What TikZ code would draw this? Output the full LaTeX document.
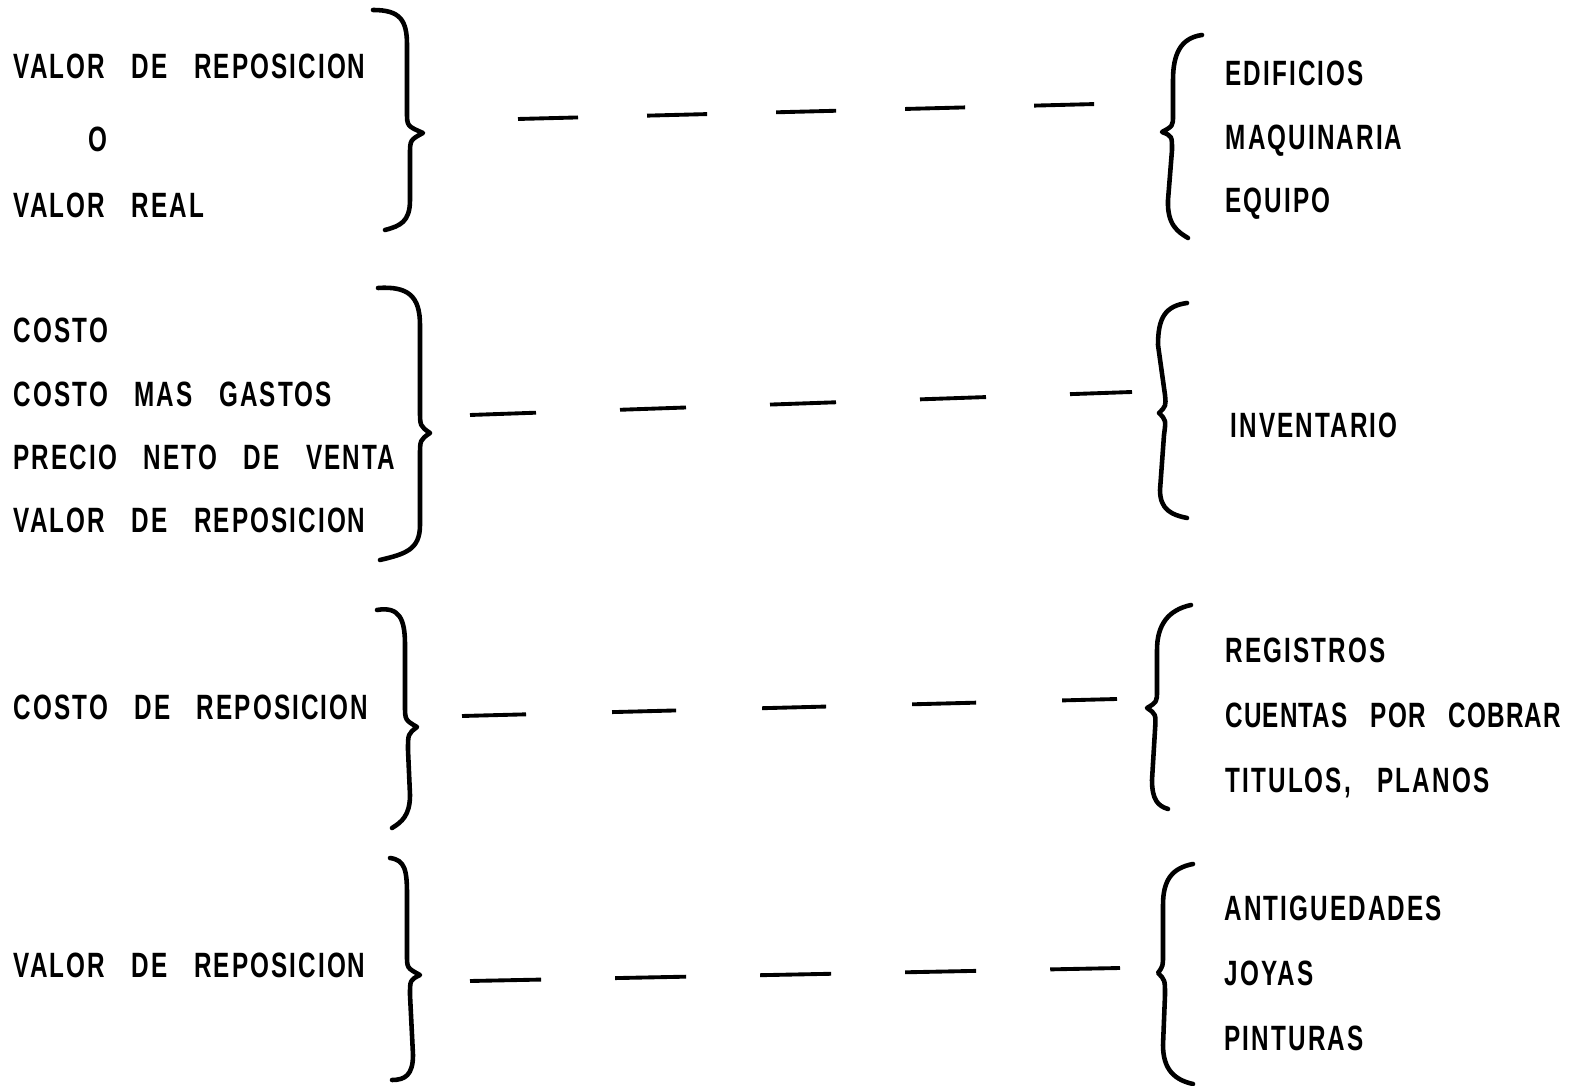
\documentclass[tikz,border=0pt]{standalone}
\usepackage{fontspec}
\setmainfont{Liberation Sans}[FakeStretch=0.69, LetterSpace=6, WordSpace=3.0]
\begin{document}
\begin{tikzpicture}[x=0.01cm, y=-0.01cm,
  lbl/.style={anchor=base west, inner sep=0pt, font=\fontsize{10}{12}\selectfont\bfseries},
  tight/.style={font=\fontsize{10}{12}\selectfont\bfseries\addfontfeatures{LetterSpace=3}},
  brc/.style={line width=1.3pt, line cap=round, line join=round},
  dashline/.style={line width=1.1pt}]
\useasboundingbox (0,0) rectangle (1585,1086);

% first row
\node[lbl](valrep1) at (13,79) {VALOR DE REPOSICION};
\node[lbl](o1) at (88,152) {O};
\node[lbl](valreal) at (13,218) {VALOR REAL};
\draw[brc] (373,10) .. controls (400,10) and (407,20) .. (407,45) -- (407,112) .. controls (407,126) .. (423,133) .. controls (410,140) .. (410,155) -- (410,200) .. controls (410,222) and (400,226) .. (385,230);
\coordinate (l1) at (518,119);
\coordinate (r1) at (1097,104);
\draw[dashline, dash pattern=on 0.6cm off 0.69cm] (l1) -- (r1);
\draw[brc] (1202,35) .. controls (1180,38) and (1173,55) .. (1173,80) -- (1173,115) .. controls (1173,126) .. (1162,132) .. controls (1172,136) .. (1172,150) -- (1168,200) .. controls (1167,225) and (1178,232) .. (1188,238);
\node[lbl](edificios) at (1225,86) {EDIFICIOS};
\node[lbl](maquinaria) at (1225,150) {MAQUINARIA};
\node[lbl](equipo) at (1225,213) {EQUIPO};

% second row
\node[lbl](costo) at (13,343) {COSTO};
\node[lbl](costomas) at (13,407) {COSTO MAS GASTOS};
\node[lbl](precio) at (13,470) {PRECIO NETO DE VENTA};
\node[lbl](valrep2) at (13,533) {VALOR DE REPOSICION};
\draw[brc] (378,288) .. controls (408,286) and (420,296) .. (420,325) -- (420,410) .. controls (420,426) .. (430,433) .. controls (420,440) .. (420,456) -- (420,525) .. controls (420,550) and (405,554) .. (380,560);
\coordinate (l2) at (470,415);
\coordinate (r2) at (1132,392);
\draw[dashline, dash pattern=on 0.66cm off 0.84cm] (l2) -- (r2);
\draw[brc] (1187,303) .. controls (1165,306) and (1158,318) .. (1158,345) -- (1165,395) .. controls (1166,406) .. (1159,413) .. controls (1166,420) .. (1164,435) -- (1160,490) .. controls (1160,510) and (1172,515) .. (1187,518);
\node[lbl](inventario) at (1230,438) {INVENTARIO};

% third row
\node[lbl](costorep) at (13,720) {COSTO DE REPOSICION};
\draw[brc] (377,610) .. controls (400,606) and (405,620) .. (405,645) -- (405,705) .. controls (405,720) .. (417,727) .. controls (408,734) .. (408,750) -- (410,795) .. controls (410,815) and (402,822) .. (392,828);
\coordinate (l3) at (462,716);
\coordinate (r3) at (1117,699);
\draw[dashline, dash pattern=on 0.64cm off 0.86cm] (l3) -- (r3);
\draw[brc] (1191,605) .. controls (1168,610) and (1157,625) .. (1157,650) -- (1157,690) .. controls (1157,702) .. (1147,708) .. controls (1156,714) .. (1155,730) -- (1152,780) .. controls (1152,800) and (1158,806) .. (1168,809);
\node[lbl](registros) at (1225,663) {REGISTROS};
\node[lbl, tight](cuentas) at (1225,728) {CUENTAS POR COBRAR};
\node[lbl](titulos) at (1225,793) {TITULOS, PLANOS};

% fourth row
\node[lbl](valrep4) at (13,977) {VALOR DE REPOSICION};
\draw[brc] (390,858) .. controls (405,860) and (407,870) .. (407,895) -- (407,955) .. controls (407,968) .. (420,975) .. controls (410,980) .. (410,995) -- (413,1055) .. controls (413,1075) and (405,1080) .. (392,1080);
\coordinate (l4) at (470,981);
\coordinate (r4) at (1120,968);
\draw[dashline, dash pattern=on 0.71cm off 0.74cm] (l4) -- (r4);
\draw[brc] (1193,864) .. controls (1172,868) and (1163,880) .. (1163,905) -- (1163,955) .. controls (1163,966) .. (1158,973) .. controls (1165,980) .. (1165,995) -- (1163,1045) .. controls (1163,1070) and (1175,1080) .. (1193,1084);
\node[lbl](antiguedades) at (1224,920) {ANTIGUEDADES};
\node[lbl](joyas) at (1224,985) {JOYAS};
\node[lbl](pinturas) at (1224,1050) {PINTURAS};
\end{tikzpicture}
\end{document}
